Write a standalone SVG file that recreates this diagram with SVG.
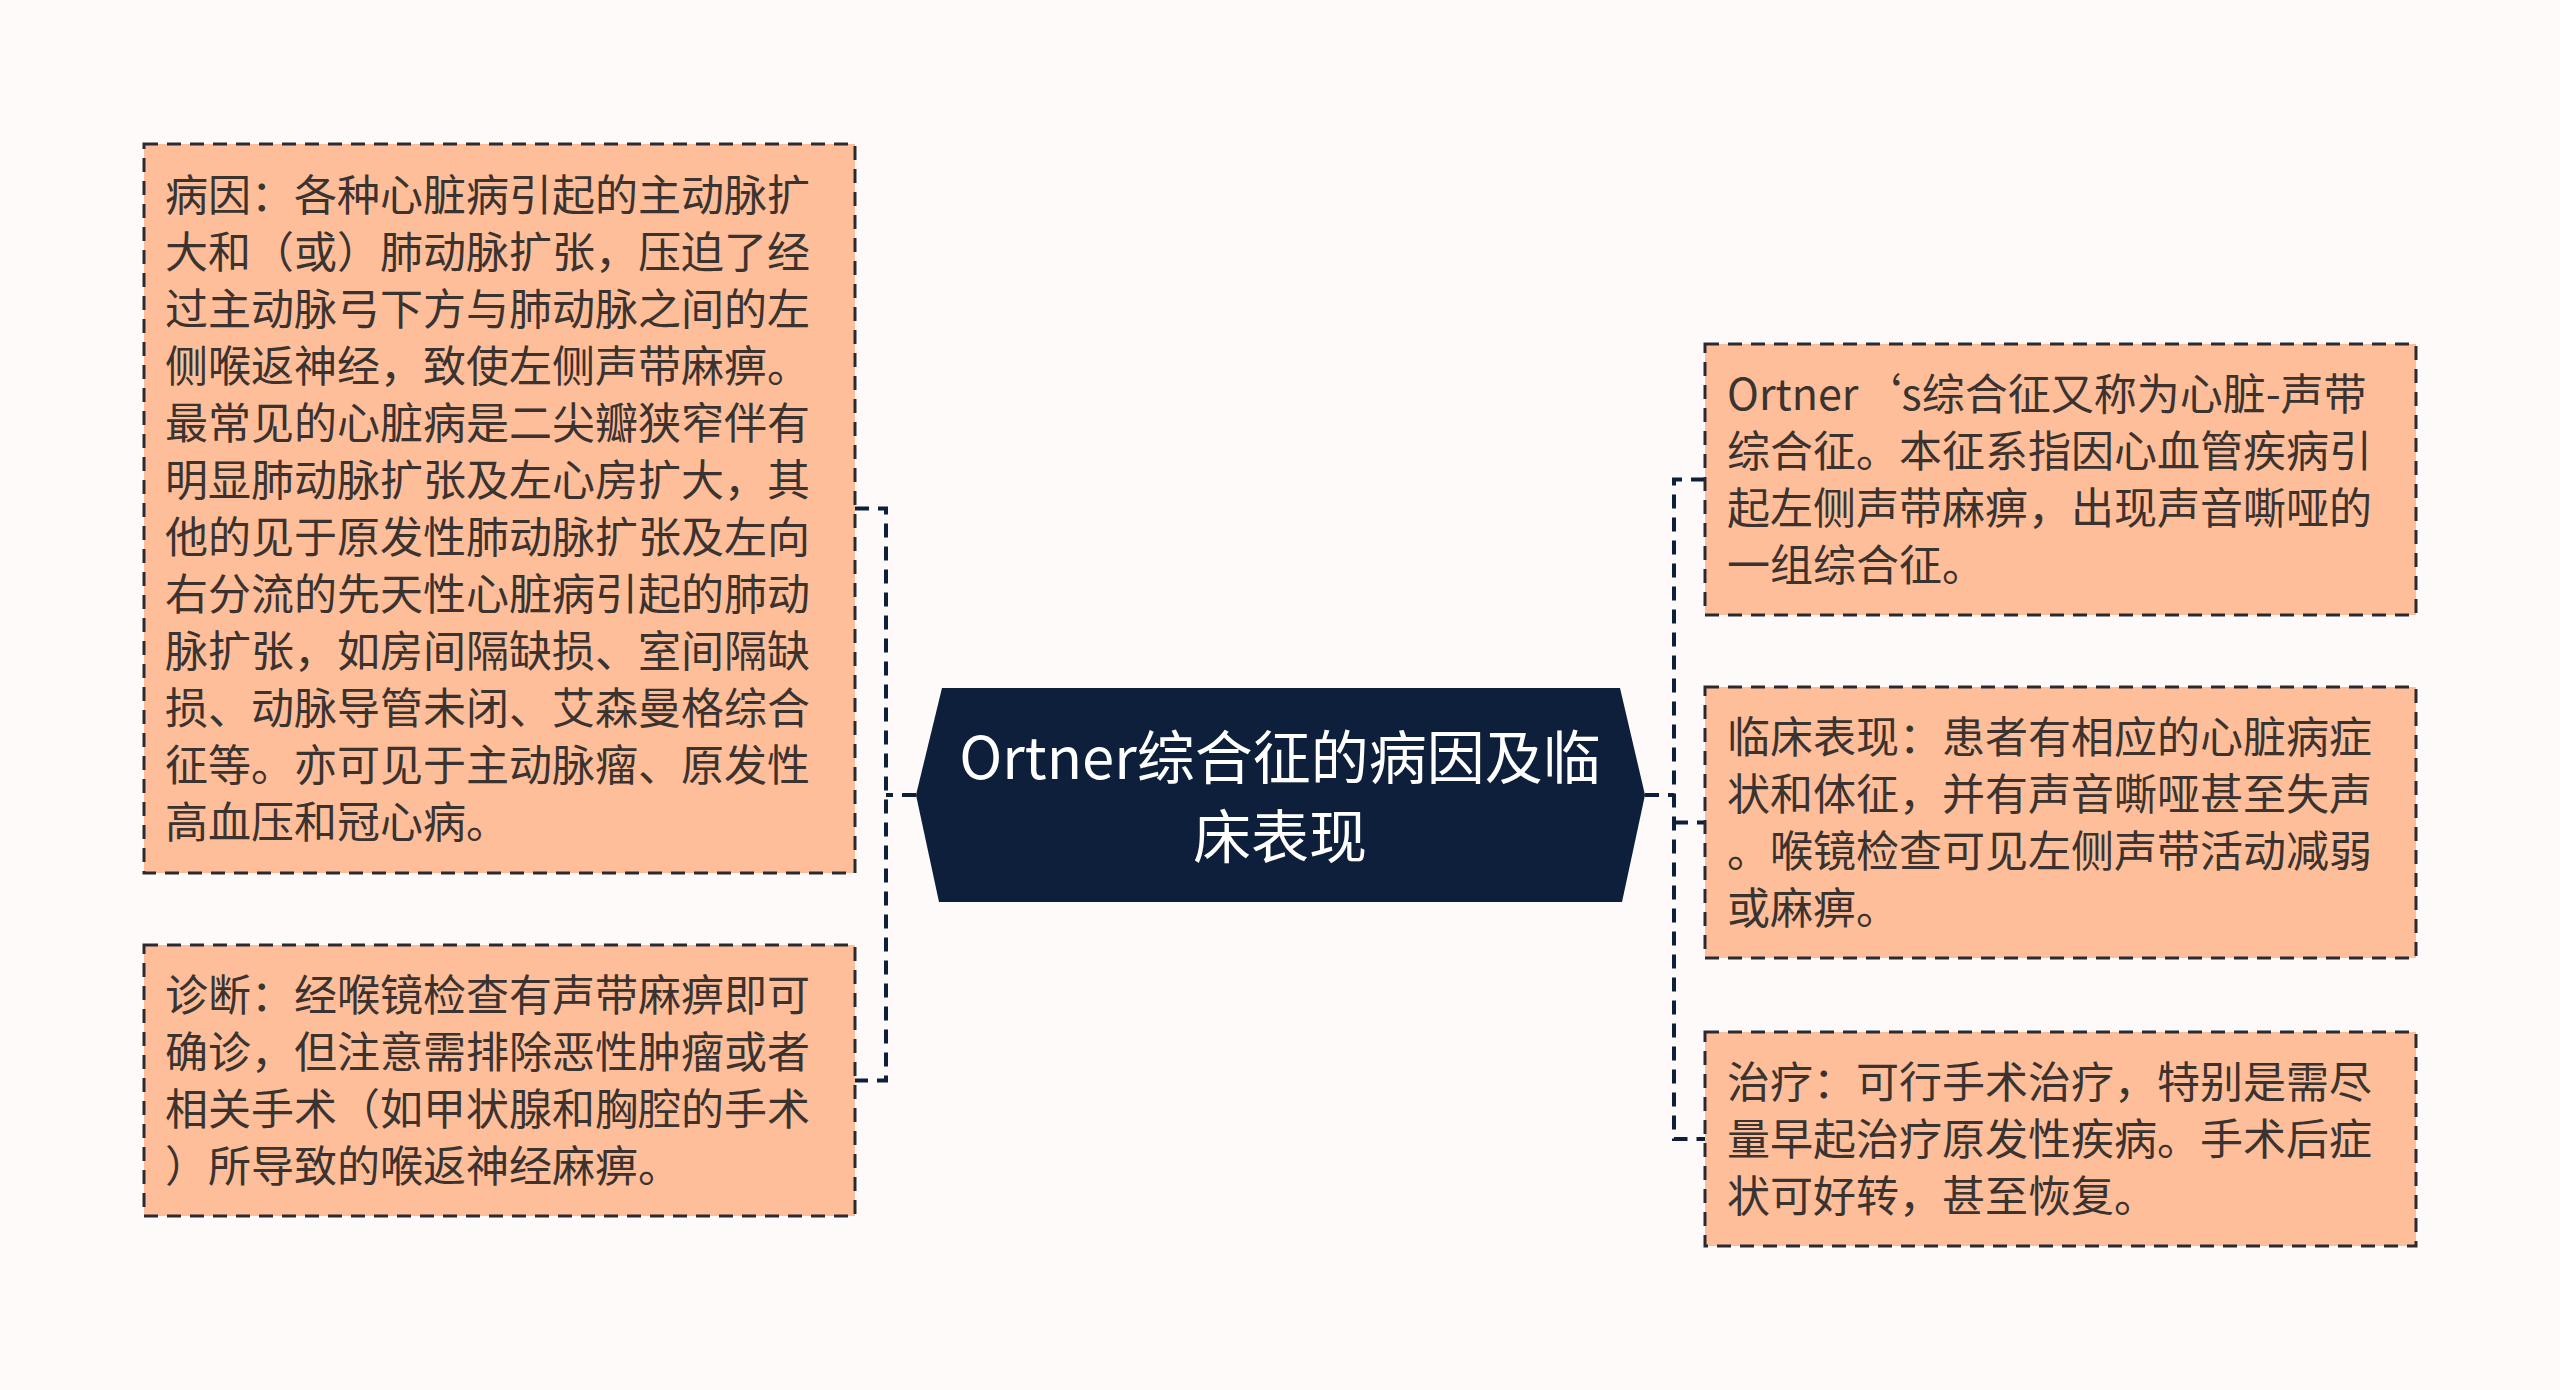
<svg xmlns="http://www.w3.org/2000/svg" width="2560" height="1390" viewBox="0 0 2560 1390">
<style>
.box{fill:#ffbe9a;stroke:#2a2a33;stroke-width:3;stroke-dasharray:14 9}
.t{font-family:"Noto Sans CJK SC","Noto Sans",sans-serif;font-size:43px;fill:#3a3330}
.title{font-family:"Noto Sans CJK SC","Noto Sans",sans-serif;font-size:58px;fill:#ffffff;text-anchor:middle}
.conn{fill:none;stroke:#0d1f3a;stroke-width:4;stroke-dasharray:14 9}
</style>
<rect width="2560" height="1390" fill="#fefaf9"/>
<g id="connectors">
<path class="conn" d="M855,508.5 H886 V1080.5 H855"/>
<path class="conn" d="M916,795 H886" stroke-dasharray="none"/>
<path class="conn" d="M1645,795 H1674" stroke-dasharray="none"/>
<path class="conn" d="M1705,479.5 H1674 V1139 H1705"/>
<path class="conn" d="M1674,822.5 H1705"/>
</g>
<g id="center">
<polygon points="942,688 1620,688 1645,795 1622,902 939,902 916,795" fill="#0d1f3a"/>
<text class="title"><tspan x="1280" y="779">Ortner综合征的病因及临</tspan><tspan x="1280" y="858">床表现</tspan></text>
</g>
<g id="cause">
<rect class="box" x="144" y="144" width="711" height="729"/>
<text class="t">
<tspan x="165" y="211">病因：各种心脏病引起的主动脉扩</tspan>
<tspan x="165" y="268">大和（或）肺动脉扩张，压迫了经</tspan>
<tspan x="165" y="325">过主动脉弓下方与肺动脉之间的左</tspan>
<tspan x="165" y="382">侧喉返神经，致使左侧声带麻痹。</tspan>
<tspan x="165" y="439">最常见的心脏病是二尖瓣狭窄伴有</tspan>
<tspan x="165" y="496">明显肺动脉扩张及左心房扩大，其</tspan>
<tspan x="165" y="553">他的见于原发性肺动脉扩张及左向</tspan>
<tspan x="165" y="610">右分流的先天性心脏病引起的肺动</tspan>
<tspan x="165" y="667">脉扩张，如房间隔缺损、室间隔缺</tspan>
<tspan x="165" y="724">损、动脉导管未闭、艾森曼格综合</tspan>
<tspan x="165" y="781">征等。亦可见于主动脉瘤、原发性</tspan>
<tspan x="165" y="838">高血压和冠心病。</tspan>
</text>
</g>
<g id="diagnosis">
<rect class="box" x="144" y="945" width="711" height="271"/>
<text class="t">
<tspan x="165" y="1011">诊断：经喉镜检查有声带麻痹即可</tspan>
<tspan x="165" y="1068">确诊，但注意需排除恶性肿瘤或者</tspan>
<tspan x="165" y="1125">相关手术（如甲状腺和胸腔的手术</tspan>
<tspan x="165" y="1182">）所导致的喉返神经麻痹。</tspan>
</text>
</g>
<g id="definition">
<rect class="box" x="1705" y="344" width="711" height="271"/>
<text class="t">
<tspan x="1727" y="410">Ortner‘s综合征又称为心脏-声带</tspan>
<tspan x="1727" y="467">综合征。本征系指因心血管疾病引</tspan>
<tspan x="1727" y="524">起左侧声带麻痹，出现声音嘶哑的</tspan>
<tspan x="1727" y="581">一组综合征。</tspan>
</text>
</g>
<g id="clinical">
<rect class="box" x="1705" y="687" width="711" height="271"/>
<text class="t">
<tspan x="1727" y="753">临床表现：患者有相应的心脏病症</tspan>
<tspan x="1727" y="810">状和体征，并有声音嘶哑甚至失声</tspan>
<tspan x="1727" y="867">。喉镜检查可见左侧声带活动减弱</tspan>
<tspan x="1727" y="924">或麻痹。</tspan>
</text>
</g>
<g id="treatment">
<rect class="box" x="1705" y="1032" width="711" height="214"/>
<text class="t">
<tspan x="1727" y="1098">治疗：可行手术治疗，特别是需尽</tspan>
<tspan x="1727" y="1155">量早起治疗原发性疾病。手术后症</tspan>
<tspan x="1727" y="1212">状可好转，甚至恢复。</tspan>
</text>
</g>
</svg>
